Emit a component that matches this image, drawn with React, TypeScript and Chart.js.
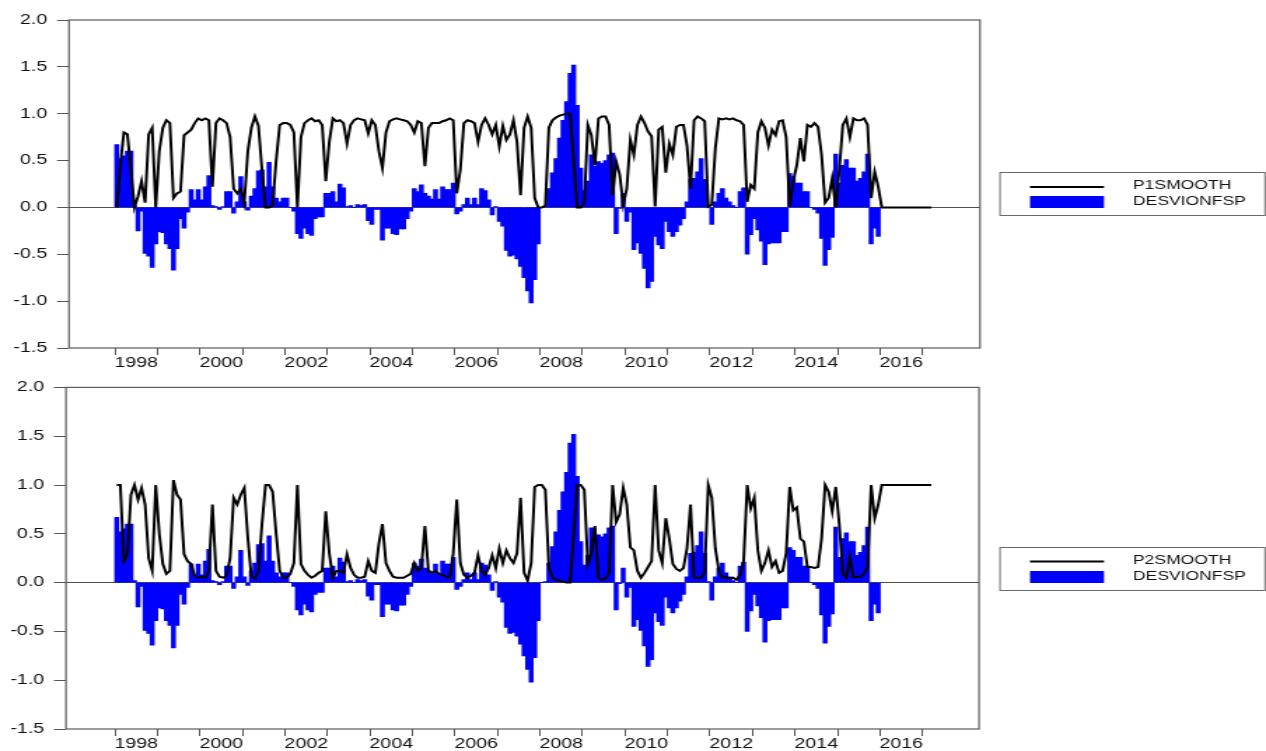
import React, { useEffect, useRef } from 'react';
import { Chart, registerables } from 'chart.js';

Chart.register(...registerables);

// ---------- data (monthly, starting 1998M01) ----------
const FIRST_YEAR = 1998;

const DESVIONFSP: number[] = [
  0.67, 0.52, 0.55, 0.6, 0.6, 0.02, -0.25, -0.04, -0.49, -0.52,
  -0.64, -0.39, -0.26, -0.27, -0.39, -0.44, -0.67, -0.44, -0.12, -0.22,
  -0.05, 0.19, 0.08, 0.19, 0.08, 0.22, 0.34, 0.02, 0.01, -0.02,
  0.01, 0.17, 0.17, -0.06, 0.06, 0.33, 0.06, -0.03, 0.12, 0.2,
  0.39, 0.4, 0.22, 0.48, 0.22, 0.1, 0.06, 0.1, 0.1, 0.0,
  -0.04, -0.28, -0.33, -0.22, -0.28, -0.3, -0.12, -0.1, -0.1, 0.15,
  0.15, 0.17, 0.06, 0.25, 0.21, 0.01, 0.02, 0.0, 0.03, 0.02,
  0.03, -0.14, -0.18, -0.02, -0.02, -0.35, -0.22, -0.22, -0.28, -0.29,
  -0.23, -0.23, -0.12, -0.04, 0.2, 0.17, 0.24, 0.15, 0.12, 0.09,
  0.19, 0.09, 0.22, 0.19, 0.19, 0.26, -0.07, -0.04, 0.03, 0.1,
  0.03, 0.1, 0.03, 0.2, 0.18, 0.08, -0.08, 0.01, -0.15, -0.2,
  -0.46, -0.52, -0.51, -0.55, -0.63, -0.75, -0.89, -1.02, -0.77, -0.39,
  0.0, 0.01, 0.2, 0.37, 0.52, 0.74, 0.93, 1.13, 1.43, 1.52,
  1.09, 0.42, 0.18, 0.28, 0.56, 0.44, 0.49, 0.47, 0.5, 0.56,
  0.58, -0.28, -0.01, 0.15, -0.15, -0.05, -0.45, -0.38, -0.49, -0.65,
  -0.86, -0.79, -0.31, -0.4, -0.44, -0.15, -0.26, -0.31, -0.26, -0.19,
  -0.12, 0.06, 0.3, 0.31, 0.38, 0.52, 0.3, 0.01, -0.18, 0.06,
  0.15, 0.2, 0.1, 0.06, 0.02, 0.0, 0.17, 0.21, -0.5, -0.29,
  -0.12, -0.24, -0.36, -0.61, -0.39, -0.38, -0.38, -0.38, -0.26, -0.26,
  0.36, 0.33, 0.26, 0.26, 0.17, 0.17, 0.0, -0.02, -0.06, -0.33,
  -0.62, -0.45, -0.32, 0.57, 0.26, 0.45, 0.51, 0.42, 0.42, 0.28,
  0.31, 0.38, 0.57, -0.39, -0.22, -0.31,
];

const P1SMOOTH: number[] = [
  0.0, 0.45, 0.8, 0.78, 0.4, 0.0, 0.12, 0.28, 0.05, 0.78,
  0.85, 0.0, 0.6, 0.85, 0.93, 0.9, 0.1, 0.15, 0.17, 0.77,
  0.8, 0.83, 0.9, 0.95, 0.93, 0.95, 0.93, 0.22, 0.9, 0.95,
  0.93, 0.9, 0.75, 0.2, 0.15, 0.2, 0.05, 0.6, 0.85, 0.97,
  0.87, 0.4, 0.0, 0.0, 0.02, 0.5, 0.88, 0.9, 0.9, 0.88,
  0.8, 0.0, 0.75, 0.9, 0.93, 0.95, 0.92, 0.93, 0.88, 0.28,
  0.7, 0.95, 0.92, 0.93, 0.9, 0.68, 0.88, 0.93, 0.95, 0.94,
  0.93, 0.79, 0.93, 0.88, 0.6, 0.42, 0.8, 0.92, 0.94, 0.95,
  0.94, 0.93, 0.92, 0.88, 0.8, 0.92, 0.9, 0.44, 0.85, 0.9,
  0.9, 0.9, 0.92, 0.93, 0.95, 0.93, 0.15, 0.4, 0.9, 0.93,
  0.92, 0.9, 0.7, 0.88, 0.95, 0.88, 0.78, 0.88, 0.65, 0.87,
  0.72, 0.78, 0.93, 0.7, 0.13, 0.85, 0.97, 0.85, 0.1, 0.0,
  0.0, 0.02, 0.85, 0.93, 0.96, 0.98, 0.99, 1.0, 1.0, 0.5,
  0.0, 0.0, 0.05, 0.88, 0.77, 0.45, 0.95, 0.97, 0.97, 0.88,
  0.13, 0.49, 0.35, 0.03, 0.2, 0.72, 0.56, 0.88, 0.97, 0.9,
  0.81, 0.76, 0.01, 0.83, 0.86, 0.37, 0.68, 0.56, 0.86, 0.88,
  0.88, 0.66, 0.2, 0.93, 0.97, 0.95, 0.92, 0.01, 0.03, 0.63,
  0.95, 0.94, 0.95, 0.94, 0.95, 0.93, 0.92, 0.88, 0.06, 0.24,
  0.2, 0.8, 0.92, 0.85, 0.66, 0.83, 0.77, 0.92, 0.93, 0.75,
  0.01, 0.28, 0.45, 0.74, 0.49, 0.88, 0.86, 0.9, 0.86, 0.56,
  0.05, 0.1, 0.31, 0.0, 0.4, 0.88, 0.95, 0.75, 0.95, 0.93,
  0.93, 0.95, 0.88, 0.1, 0.38, 0.22, 0.0, 0.0, 0.0, 0.0,
  0.0, 0.0, 0.0, 0.0, 0.0, 0.0, 0.0, 0.0, 0.0, 0.0, 0.0,
];

const P2SMOOTH: number[] = [
  1.0, 1.0, 0.22, 0.29, 0.9, 1.0, 0.85, 0.97, 0.8, 0.25,
  0.12, 1.0, 0.5, 0.19, 0.09, 0.12, 1.05, 0.9, 0.85, 0.29,
  0.22, 0.19, 0.07, 0.05, 0.06, 0.05, 0.12, 0.8, 0.12, 0.06,
  0.05, 0.07, 0.25, 0.87, 0.8, 0.9, 0.97, 0.46, 0.06, 0.04,
  0.12, 0.6, 1.0, 1.0, 0.93, 0.5, 0.12, 0.05, 0.05, 0.09,
  0.2, 1.0, 0.19, 0.12, 0.08, 0.05, 0.07, 0.1, 0.12, 0.73,
  0.3, 0.05, 0.12, 0.12, 0.1, 0.29, 0.15, 0.08, 0.05, 0.05,
  0.06, 0.22, 0.12, 0.1, 0.4, 0.6, 0.2, 0.12, 0.06, 0.05,
  0.05, 0.05, 0.07, 0.09, 0.2, 0.12, 0.15, 0.58, 0.12, 0.1,
  0.12, 0.09, 0.08, 0.06, 0.05, 0.3, 0.85, 0.2, 0.08, 0.05,
  0.07, 0.1, 0.28, 0.12, 0.08, 0.15, 0.28, 0.15, 0.35, 0.2,
  0.33, 0.25, 0.2, 0.3, 0.87, 0.1, 0.02, 0.2, 0.98, 1.0,
  1.0, 0.95, 0.16, 0.05, 0.03, 0.02, 0.01, 0.0, 0.0, 0.5,
  1.0, 1.0, 0.95, 0.19, 0.3, 0.58, 0.05, 0.03, 0.04, 0.1,
  1.0, 0.62, 0.7, 0.97, 0.8, 0.36, 0.33, 0.12, 0.05, 0.1,
  0.16, 0.22, 1.0, 0.33, 0.2, 0.66, 0.45, 0.19, 0.14, 0.12,
  0.15, 0.35, 0.8, 0.05, 0.05, 0.05, 0.1, 1.0, 0.87, 0.35,
  0.12, 0.05, 0.06, 0.04, 0.05, 0.03, 0.08, 0.22, 1.0, 0.76,
  0.87, 0.33, 0.12, 0.2, 0.33, 0.16, 0.22, 0.1, 0.12, 0.3,
  0.98, 0.74, 0.77, 0.45, 0.42, 0.16, 0.16, 0.15, 0.16, 0.45,
  1.0, 0.93, 0.73, 0.98, 0.6, 0.09, 0.05, 0.26, 0.05, 0.06,
  0.06, 0.09, 0.16, 1.0, 0.66, 0.8, 1.0, 1.0, 1.0, 1.0,
  1.0, 1.0, 1.0, 1.0, 1.0, 1.0, 1.0, 1.0, 1.0, 1.0, 1.0,
];

const Y_TICKS: number[] = [-1.5, -1.0, -0.5, 0.0, 0.5, 1.0, 1.5, 2.0];
const YEAR_TICKS: number[] = [
  1998, 1999, 2000, 2001, 2002, 2003, 2004, 2005, 2006, 2007,
  2008, 2009, 2010, 2011, 2012, 2013, 2014, 2015, 2016, 2017,
];
const YEAR_LABELS: string[] = ['1998', '2000', '2002', '2004', '2006', '2008', '2010', '2012', '2014', '2016'];
const BAR_LABEL = 'DESVIONFSP';

// ---------- layout ----------
const SCREEN_W = 1266;
const INTERNAL_W = 904;
const SX = SCREEN_W / INTERNAL_W; // horizontal stretch of the drawing
const PX_PER_YEAR = 42.5; // screen px
const TICK_1998_X = 115; // screen px
const FONT = '"Liberation Sans", Arial, Helvetica, sans-serif';

interface PanelSpec {
  lineLabel: string;
  lineData: number[];
  top: number;
  height: number;
  plotLeft: number;
  plotRight: number;
  plotTop: number;
  plotBottom: number;
  legendTop: number;
  legendBottom: number;
  legendLineY: number;
  legendRectTop: number;
  legendRectBottom: number;
  legendText1Y: number;
  legendText2Y: number;
}

const monthX = (i: number) => FIRST_YEAR + (i + 0.5) / 12;

function Panel({ spec }: { spec: PanelSpec }) {
  const ref = useRef<HTMLCanvasElement | null>(null);

  useEffect(() => {
    const canvas = ref.current;
    if (!canvas) return;
    const xMin = FIRST_YEAR - (TICK_1998_X - spec.plotLeft) / PX_PER_YEAR;
    const xMax = FIRST_YEAR + (spec.plotRight - TICK_1998_X) / PX_PER_YEAR;
    const leftInt = spec.plotLeft / SX;
    const rightPad = INTERNAL_W - spec.plotRight / SX;
    const topPad = spec.plotTop - spec.top;
    const xAxisH = spec.top + spec.height - spec.plotBottom;
    const monthPx = PX_PER_YEAR / 12 / SX;

    const frameLegend = {
      id: 'frameLegend',
      afterDraw(chart: any) {
        const { ctx, chartArea: a } = chart;
        ctx.save();
        ctx.strokeStyle = '#5a5a5a';
        ctx.lineWidth = 1.2;
        ctx.strokeRect(a.left, a.top, a.right - a.left, a.bottom - a.top);

        const bx = 1000 / SX;
        const bw = (1265 - 1000) / SX;
        ctx.lineWidth = 1;
        ctx.strokeStyle = '#6a6a6a';
        ctx.strokeRect(bx, spec.legendTop + 0.5, bw, spec.legendBottom - spec.legendTop);

        const s0 = 1030 / SX;
        const s1 = 1104 / SX;
        ctx.strokeStyle = '#000000';
        ctx.lineWidth = 2;
        ctx.beginPath();
        ctx.moveTo(s0, spec.legendLineY);
        ctx.lineTo(s1, spec.legendLineY);
        ctx.stroke();
        ctx.fillStyle = '#0000FF';
        ctx.fillRect(s0, spec.legendRectTop, s1 - s0, spec.legendRectBottom - spec.legendRectTop);

        ctx.fillStyle = '#111111';
        ctx.font = `12.5px ${FONT}`;
        ctx.textBaseline = 'middle';
        ctx.textAlign = 'left';
        const ds = chart.data.datasets;
        ctx.fillText(ds[0].label, 1133 / SX, spec.legendText1Y);
        ctx.fillText(ds[1].label, 1133 / SX, spec.legendText2Y);
        ctx.restore();
      },
    };

    const chart = new Chart(canvas, {
      type: 'bar',
      data: {
        datasets: [
          {
            type: 'line',
            label: spec.lineLabel,
            data: spec.lineData.map((v, i) => ({ x: monthX(i), y: v })),
            borderColor: '#000000',
            borderWidth: 2,
            pointRadius: 0,
            tension: 0,
            fill: false,
            order: 0,
          } as any,
          {
            type: 'bar',
            label: BAR_LABEL,
            data: DESVIONFSP.map((v, i) => ({ x: monthX(i), y: v })),
            backgroundColor: '#0000FF',
            borderWidth: 0,
            barThickness: monthPx + 0.35,
            order: 1,
          } as any,
        ],
      },
      options: {
        responsive: false,
        maintainAspectRatio: false,
        devicePixelRatio: 1,
        animation: false,
        events: [],
        layout: { padding: { left: 0, right: rightPad, top: topPad, bottom: 0 } },
        plugins: { legend: { display: false }, tooltip: { enabled: false } },
        scales: {
          x: {
            type: 'linear',
            min: xMin,
            max: xMax,
            offset: false,
            afterBuildTicks: (scale: any) => {
              scale.ticks = YEAR_TICKS.map((v) => ({ value: v }));
            },
            afterFit: (scale: any) => {
              scale.height = xAxisH;
            },
            grid: {
              display: true,
              drawOnChartArea: false,
              drawTicks: true,
              tickLength: 7,
              tickColor: '#555555',
              tickWidth: 1,
              color: 'rgba(0,0,0,0)',
              offset: false,
            },
            border: { display: false },
            ticks: {
              autoSkip: false,
              maxRotation: 0,
              minRotation: 0,
              labelOffset: PX_PER_YEAR / 2 / SX,
              padding: 0,
              color: '#111111',
              font: { family: FONT, size: 14 },
              callback: (v: any) => (YEAR_LABELS.includes(String(v)) ? String(v) : ''),
            },
          },
          y: {
            type: 'linear',
            min: -1.5,
            max: 2.0,
            afterBuildTicks: (scale: any) => {
              scale.ticks = Y_TICKS.map((v) => ({ value: v }));
            },
            afterFit: (scale: any) => {
              scale.width = leftInt;
            },
            grid: {
              color: (ctx: any) => (ctx.tick && ctx.tick.value === 0 ? '#505050' : 'rgba(0,0,0,0)'),
              lineWidth: 1,
              drawTicks: true,
              tickLength: 12 / SX,
              tickColor: '#555555',
              tickWidth: 1,
            },
            border: { display: false },
            ticks: {
              padding: 7,
              color: '#111111',
              font: { family: FONT, size: 14 },
              callback: (v: any) => Number(v).toFixed(1),
            },
          },
        },
      } as any,
      plugins: [frameLegend],
    });

    return () => chart.destroy();
  }, [spec]);

  return (
    <canvas
      ref={ref}
      width={INTERNAL_W}
      height={spec.height}
      style={{
        position: 'absolute',
        left: 0,
        top: spec.top,
        width: `${SCREEN_W}px`,
        height: `${spec.height}px`,
        display: 'block',
      }}
    />
  );
}

const TOP_SPEC: PanelSpec = {
  lineLabel: 'P1SMOOTH',
  lineData: P1SMOOTH,
  top: 0,
  height: 372,
  plotLeft: 69,
  plotRight: 980,
  plotTop: 20,
  plotBottom: 348,
  legendTop: 172,
  legendBottom: 215,
  legendLineY: 187,
  legendRectTop: 196,
  legendRectBottom: 208,
  legendText1Y: 186,
  legendText2Y: 202,
};

const BOTTOM_SPEC: PanelSpec = {
  lineLabel: 'P2SMOOTH',
  lineData: P2SMOOTH,
  top: 372,
  height: 379,
  plotLeft: 66,
  plotRight: 979,
  plotTop: 384,
  plotBottom: 729,
  legendTop: 175,
  legendBottom: 218,
  legendLineY: 189.5,
  legendRectTop: 199,
  legendRectBottom: 211,
  legendText1Y: 189,
  legendText2Y: 205,
};

export default function App() {
  return (
    <div
      style={{
        position: 'absolute',
        left: 0,
        top: 0,
        width: SCREEN_W,
        height: 751,
        overflow: 'hidden',
        background: '#ffffff',
      }}
    >
      <Panel spec={TOP_SPEC} />
      <Panel spec={BOTTOM_SPEC} />
    </div>
  );
}
